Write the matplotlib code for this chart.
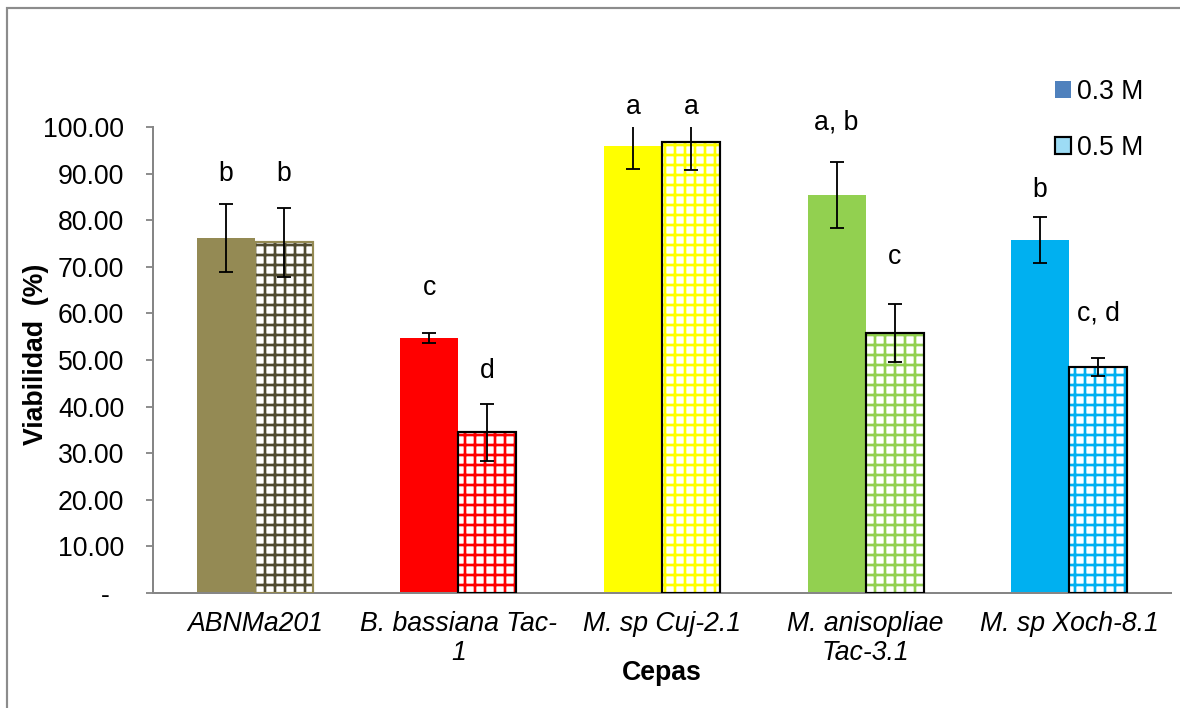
"""
Viabilidad de cepas a 0.3 M y 0.5 M (barras con error y letras de grupo)
"""

import matplotlib
matplotlib.use('Agg')
import matplotlib.pyplot as plt
import numpy as np
from matplotlib.patches import Patch, Rectangle

# data
cepas = ['ABNMa201', 'B. bassiana Tac-\n1', 'M. sp Cuj-2.1',
         'M. anisopliae\nTac-3.1', 'M. sp Xoch-8.1']
viab_03 = [76.2, 54.7, 95.9, 85.4, 75.8]
err_03 = [7.3, 1.1, 4.9, 7.0, 4.9]
viab_05 = [75.3, 34.5, 96.7, 55.8, 48.5]
err_05 = [7.4, 6.1, 5.9, 6.3, 2.0]
letras_03 = ['b', 'c', 'a', 'a, b', 'b']
letras_05 = ['b', 'd', 'a', 'c', 'c, d']
yticks = [0, 10, 20, 30, 40, 50, 60, 70, 80, 90, 100]

# styles
colores = ['#948A54', '#FF0000', '#FFFF00', '#92D050', '#00B0F0']
hatch_col = ['#4F4A30', '#FF0000', '#FFFF00', '#92D050', '#00B0F0']
borde_05 = ['#948A54', 'black', 'black', 'black', 'black']
# where the letters sit above the top of each error bar (data units)
pad_03 = [6.5, 9.7, 3.5, 8.5, 5.8]
pad_05 = [7.3, 7.1, 1.7, 10.0, 9.4]

plt.rcParams['font.family'] = ['Liberation Sans', 'DejaVu Sans']
plt.rcParams['hatch.linewidth'] = 1.6
FS = 16

fig = plt.figure(figsize=(1180 / 120, 708 / 120), dpi=120)
ax = fig.add_axes([153 / 1180, 1 - 593 / 708, 1018 / 1180, 466 / 708])

x = np.arange(len(cepas))
w = 0.285

ax.bar(x - w / 2, viab_03, w, color=colores, linewidth=0, zorder=2)
for i in range(len(cepas)):
    ax.bar(x[i] + w / 2, viab_05[i], w, facecolor='white',
           edgecolor=hatch_col[i], hatch='++', linewidth=0, zorder=2)
    ax.bar(x[i] + w / 2, viab_05[i], w, fill=False,
           edgecolor=borde_05[i], linewidth=1.3, zorder=3)

ax.errorbar(x - w / 2, viab_03, yerr=err_03, fmt='none', ecolor='black',
            elinewidth=1.1, capsize=4, capthick=1.1, zorder=4)
ax.errorbar(x + w / 2, viab_05, yerr=err_05, fmt='none', ecolor='black',
            elinewidth=1.1, capsize=4, capthick=1.1, zorder=4)

for i in range(len(cepas)):
    ax.text(x[i] - w / 2, viab_03[i] + err_03[i] + pad_03[i], letras_03[i],
            ha='center', va='center', fontsize=FS, clip_on=False)
    ax.text(x[i] + w / 2, viab_05[i] + err_05[i] + pad_05[i], letras_05[i],
            ha='center', va='center', fontsize=FS, clip_on=False)

ax.set_xlim(-0.5, len(cepas) - 0.5)
ax.set_ylim(0, 100)
ax.set_yticks(yticks)
ax.set_yticklabels(['{:.2f}'.format(v) if v else '-  ' for v in yticks],
                   fontsize=FS)
ax.set_xticks(x)
ax.set_xticklabels(cepas, fontsize=FS, style='italic', linespacing=1.15)
ax.tick_params(axis='x', length=0, pad=11)
ax.tick_params(axis='y', length=4.2, width=1.1, color='#868686', pad=13)

for s in ['top', 'right']:
    ax.spines[s].set_visible(False)
for s in ['left', 'bottom']:
    ax.spines[s].set_color('#868686')
    ax.spines[s].set_linewidth(1.2)

ax.set_ylabel('Viabilidad  (%)', fontsize=FS, fontweight='bold')
ax.yaxis.set_label_coords(49 / 1180, 0.5, transform=fig.transFigure)
fig.text(662 / 1180, 1 - 673 / 708, 'Cepas', fontsize=FS, fontweight='bold',
         ha='center', va='center')

handles = [Patch(facecolor='#4F81BD', edgecolor='none'),
           Patch(facecolor='#9DDCF5', edgecolor='black', linewidth=1.3)]
fig.legend(handles, ['0.3 M', '0.5 M'], loc='upper left',
           bbox_to_anchor=(1044 / 1180, 1 - 68 / 708), frameon=False,
           fontsize=FS, handlelength=0.6, handleheight=0.6,
           handletextpad=0.25, labelspacing=1.15, borderaxespad=0)

# chart-area border (Excel style)
fig.patches.append(Rectangle((7 / 1180, -0.1), 1.2, 1.1 - 8 / 708,
                             transform=fig.transFigure, fill=False,
                             edgecolor='#8C8C8C', linewidth=1.3))

fig.savefig('out.png', dpi=120)
